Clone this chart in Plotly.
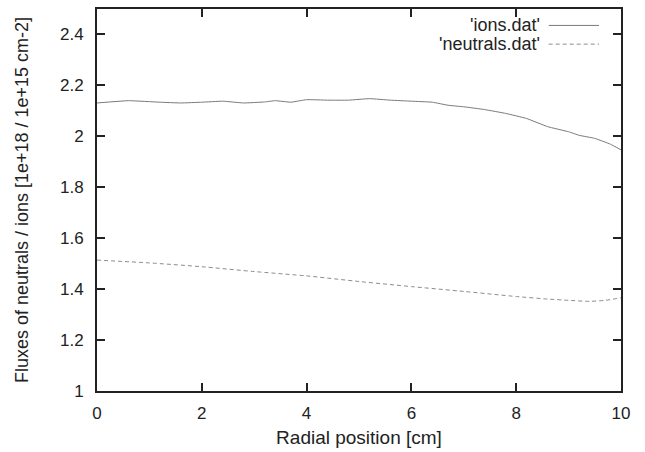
import plotly.graph_objects as go

ions_x = [0.0, 0.6, 1.2, 1.6, 2.0, 2.4, 2.8, 3.2, 3.4, 3.7, 4.0, 4.4, 4.8, 5.2, 5.6, 6.0, 6.4, 6.7, 7.0, 7.4, 7.8, 8.2, 8.6, 9.0, 9.2, 9.5, 9.8, 10.0]
ions_y = [2.131, 2.140, 2.134, 2.131, 2.134, 2.138, 2.131, 2.135, 2.140, 2.134, 2.144, 2.142, 2.142, 2.148, 2.142, 2.138, 2.134, 2.122, 2.116, 2.105, 2.090, 2.070, 2.038, 2.018, 2.004, 1.992, 1.969, 1.947]

neut_x = [0.0, 1.0, 2.0, 3.0, 4.0, 5.0, 6.0, 7.0, 8.0, 8.6, 9.0, 9.4, 9.7, 10.0]
neut_y = [1.514, 1.503, 1.488, 1.469, 1.452, 1.430, 1.410, 1.391, 1.371, 1.361, 1.356, 1.352, 1.356, 1.366]

x_ticks = [0, 2, 4, 6, 8, 10]
y_ticks = [1, 1.2, 1.4, 1.6, 1.8, 2, 2.2, 2.4]
y_labels = ["1", "1.2", "1.4", "1.6", "1.8", "2", "2.2", "2.4"]

labels = ["'ions.dat'", "'neutrals.dat'"]

fig = go.Figure()
fig.add_trace(go.Scatter(x=ions_x, y=ions_y, mode="lines", name=labels[0],
                         line=dict(color="#7a7a7a", width=1, shape="spline", smoothing=0.3)))
fig.add_trace(go.Scatter(x=neut_x, y=neut_y, mode="lines", name=labels[1],
                         line=dict(color="#8c8c8c", width=1, dash="4px,3px", shape="spline", smoothing=0.5)))

font = "Liberation Sans, Arial, sans-serif"
fig.update_layout(
    width=645, height=452,
    margin=dict(l=97, r=24, t=7, b=60),
    paper_bgcolor="white", plot_bgcolor="white",
    showlegend=False,
    font=dict(family=font, size=17, color="#222"),
    xaxis=dict(range=[0, 10], tickvals=x_ticks, ticks="inside", ticklen=8, tickwidth=1.8,
               tickcolor="#222", showline=True, linecolor="#222", linewidth=1.8, mirror="ticks",
               showgrid=False, zeroline=False, ticklabelstandoff=6,
               title=dict(text="Radial position [cm]", font=dict(size=19), standoff=8)),
    yaxis=dict(range=[1, 2.5], tickvals=y_ticks, ticktext=y_labels, ticks="inside", ticklen=8,
               tickwidth=1.8, tickcolor="#222", showline=True, linecolor="#222", linewidth=1.8,
               mirror="ticks", showgrid=False, zeroline=False, ticklabelstandoff=8,
               title=dict(text="Fluxes of neutrals / ions [1e+18 / 1e+15 cm-2]", font=dict(size=18), standoff=27)),
)

leg_y = [0.957, 0.908]
styles = [dict(color="#7a7a7a", width=1), dict(color="#8c8c8c", width=1, dash="4px,3px")]
for lab, yy, st in zip(labels, leg_y, styles):
    fig.add_annotation(x=0.850, y=yy, xref="paper", yref="paper", text=lab, showarrow=False,
                       xanchor="right", yanchor="middle", font=dict(size=18))
    fig.add_shape(type="line", xref="paper", yref="paper", x0=0.862, x1=0.958, y0=yy, y1=yy, line=st)

fig.write_html("out.html", config={"displayModeBar": False},
               post_script="document.body.style.margin='0';document.body.style.padding='0';")
